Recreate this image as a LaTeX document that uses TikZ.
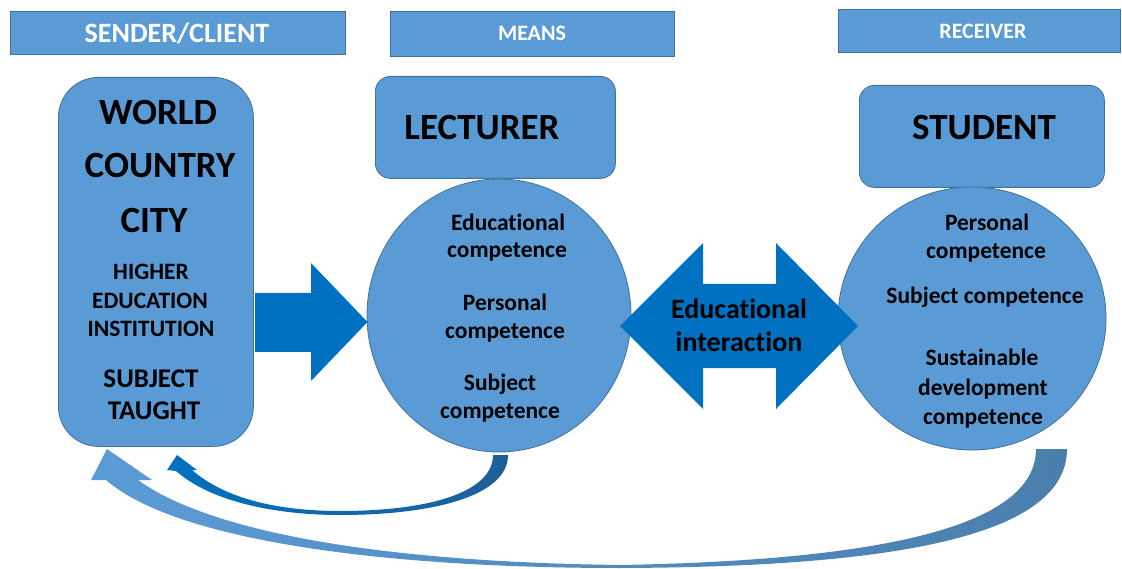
\documentclass[tikz,border=0pt]{standalone}
\usepackage{fontspec}
\setmainfont{Carlito}[Ligatures=NoCommon]
\definecolor{boxblue}{HTML}{5B9BD5}
\definecolor{edgeblue}{HTML}{41719C}
\definecolor{arrowblue}{HTML}{0070C0}
\definecolor{deepblue}{HTML}{1F5F99}
\definecolor{steelblue}{HTML}{4A7EAD}
\newcommand{\fs}[1]{\fontsize{#1}{#1}\selectfont\bfseries}
\tikzset{
  header/.style={draw=edgeblue, fill=boxblue, line width=0.8pt, text=white,
    inner sep=0pt, anchor=north west},
  panel/.style={draw=edgeblue, fill=boxblue, line width=0.8pt, inner sep=0pt,
    anchor=north west},
  txt/.style={anchor=base, inner sep=0pt, text=black},
  blockarrow/.style={fill=arrowblue, draw=none},
}
\begin{document}
\begin{tikzpicture}[x=1pt,y=-1pt]
\useasboundingbox (0,0) rectangle (1122,569);

% column headers
\node[header, minimum width=335pt, minimum height=43pt] (hsender) at (10,11) {};
\node[text=white, inner sep=0pt] (tsender) at (177,33) {\fs{28}SENDER/CLIENT};
\node[header, minimum width=284pt, minimum height=45pt] (hmeans) at (390,11) {};
\node[text=white, inner sep=0pt] (tmeans) at (532,33) {\fs{22}MEANS};
\node[header, minimum width=282pt, minimum height=43pt] (hreceiver) at (838,9) {};
\node[text=white, inner sep=0pt] (treceiver) at (983,31) {\fs{22}RECEIVER};

% sender panel
\node[panel, rounded corners=40pt, minimum width=195pt, minimum height=369pt] (sender) at (58,77) {};
\node[txt] (world) at (158,125) {\fs{37}WORLD};
\node[txt] (country) at (160,178) {\fs{37}COUNTRY};
\node[txt] (city) at (154,233) {\fs{37}CITY};
\node[txt] (higher) at (151,280) {\fs{23.5}HIGHER};
\node[txt] (education) at (150,309) {\fs{23.5}EDUCATION};
\node[txt] (institution) at (151,337) {\fs{23.5}INSTITUTION};
\node[txt] (subject) at (151,387) {\fs{27}SUBJECT};
\node[txt] (taught) at (154,419) {\fs{27}TAUGHT};

% lecturer
\node[panel, rounded corners=15pt, minimum width=240pt, minimum height=102pt] (lecbox) at (375,76) {};
\node[txt] (lecturer) at (482,140) {\fs{37}LECTURER};
\draw[fill=boxblue, draw=edgeblue, line width=0.8pt] (499,315.5) ellipse [x radius=132, y radius=136.5];
\coordinate (lecircle) at (499,315.5);
\node[txt] (l1) at (508,231) {\fs{23.5}Educational};
\node[txt] (l2) at (507,258) {\fs{23.5}competence};
\node[txt] (l3) at (505,311) {\fs{23.5}Personal};
\node[txt] (l4) at (505,339) {\fs{23.5}competence};
\node[txt] (l5) at (500,390) {\fs{23.5}Subject};
\node[txt] (l6) at (500,418) {\fs{23.5}competence};

% student
\node[panel, rounded corners=15pt, minimum width=245pt, minimum height=102pt] (stubox) at (859,85) {};
\node[txt] (student) at (984,140) {\fs{37}STUDENT};
\draw[fill=boxblue, draw=edgeblue, line width=0.8pt] (972,318.5) ellipse [x radius=134, y radius=131.5];
\coordinate (stcircle) at (972,318.5);
\node[txt] (s1) at (987,231) {\fs{23.5}Personal};
\node[txt] (s2) at (986,259) {\fs{23.5}competence};
\node[txt] (s3) at (985,304) {\fs{23.5}Subject competence};
\node[txt] (s4) at (982,366) {\fs{23.5}Sustainable};
\node[txt] (s5) at (983,395) {\fs{23.5}development};
\node[txt] (s6) at (983,424) {\fs{23.5}competence};

% block arrow from sender to lecturer
\fill[blockarrow] (255,293) -- (311,293) -- (311,263) -- (367.5,322) -- (311,381)
  -- (311,352) -- (255,352) -- cycle;

% double block arrow between lecturer and student
\fill[blockarrow] (620,326) -- (703,243) -- (703,284) -- (776,284) -- (776,243)
  -- (858,326) -- (776,409) -- (776,368) -- (703,368) -- (703,409) -- cycle;
\node[txt] (ei1) at (739,319) {\fs{28}Educational};
\node[txt] (ei2) at (739,352) {\fs{28}interaction};

% feedback arrow from lecturer back to sender
\shade[left color=arrowblue, right color=deepblue]
  (177,455) -- (197,470) -- (192,470)
  .. controls (230,503) and (290,511) .. (340,511)
  .. controls (430,511) and (493,492) .. (493,455)
  -- (508,455)
  .. controls (508,497) and (430,515) .. (340,515)
  .. controls (285,515) and (215,505) .. (176,471)
  -- (167,470) -- cycle;

% feedback arrow from student back to sender
\shade[left color=boxblue, right color=steelblue]
  (107,449) -- (152,480) -- (138,480)
  .. controls (210,532) and (380,562) .. (620,565)
  .. controls (900,560) and (1036,522) .. (1036,449)
  -- (1067,449)
  .. controls (1067,535) and (900,567) .. (620,568)
  .. controls (380,568) and (175,540) .. (106,480)
  -- (91,480) -- cycle;
\end{tikzpicture}
\end{document}
